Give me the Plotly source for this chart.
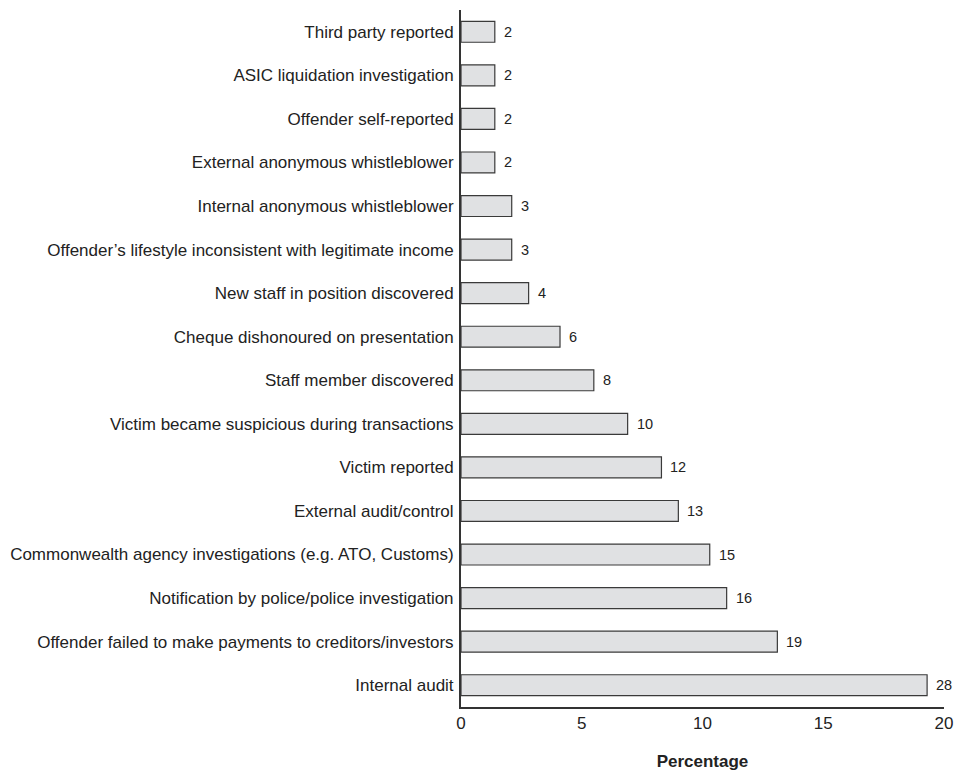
import plotly.graph_objects as go

categories = [
    "Internal audit",
    "Offender failed to make payments to creditors/investors",
    "Notification by police/police investigation",
    "Commonwealth agency investigations (e.g. ATO, Customs)",
    "External audit/control",
    "Victim reported",
    "Victim became suspicious during transactions",
    "Staff member discovered",
    "Cheque dishonoured on presentation",
    "New staff in position discovered",
    "Offender\u2019s lifestyle inconsistent with legitimate income",
    "Internal anonymous whistleblower",
    "External anonymous whistleblower",
    "Offender self-reported",
    "ASIC liquidation investigation",
    "Third party reported",
]
percentages = [19.3, 13.1, 11.0, 10.3, 9.0, 8.3, 6.9, 5.5, 4.1, 2.8, 2.1, 2.1, 1.4, 1.4, 1.4, 1.4]
counts = [28, 19, 16, 15, 13, 12, 10, 8, 6, 4, 3, 3, 2, 2, 2, 2]
x_ticks = [0, 5, 10, 15, 20]

FONT = "Liberation Sans, Arial, sans-serif"

fig = go.Figure(go.Bar(
    y=categories,
    x=percentages,
    orientation="h",
    width=0.48,
    marker=dict(color="#e0e1e3", line=dict(color="#3a3a3a", width=1.2)),
    cliponaxis=False,
))

for cat, val, cnt in zip(categories, percentages, counts):
    fig.add_annotation(
        x=val, y=cat, text=str(cnt), showarrow=False,
        xanchor="left", yanchor="middle", xshift=7,
        font=dict(family=FONT, size=14.5, color="#222"),
    )

fig.update_layout(
    width=955, height=771,
    margin=dict(l=461, r=11, t=10, b=64),
    plot_bgcolor="white", paper_bgcolor="white",
    font=dict(family=FONT, color="#222"),
    showlegend=False,
)
fig.update_xaxes(
    range=[0, 20], tickvals=x_ticks, ticktext=[str(v) for v in x_ticks],
    showgrid=False, zeroline=False, showline=True, linecolor="#333", linewidth=2,
    ticks="", tickfont=dict(size=17),
    title=dict(text="<b>Percentage</b>", font=dict(size=17), standoff=34),
    automargin=False,
)
fig.update_yaxes(
    categoryorder="array", categoryarray=categories,
    range=[-0.5, 15.5],
    showgrid=False, zeroline=False, showline=True, linecolor="#333", linewidth=2,
    ticks="", tickfont=dict(size=17), ticklabelstandoff=2,
    automargin=False,
)

fig.write_html(
    "out.html",
    config={"displayModeBar": False},
    post_script="document.body.style.margin='0';document.body.style.overflow='hidden';",
)
